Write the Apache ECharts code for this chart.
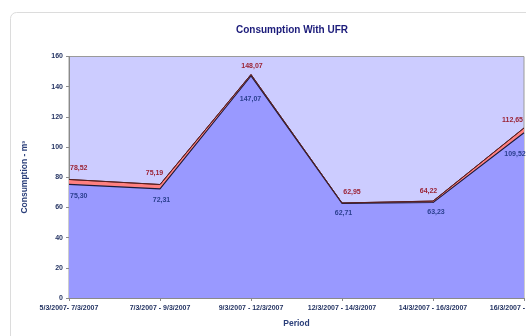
<!DOCTYPE html>
<html>
<head>
<meta charset="utf-8">
<script src="https://cdn.jsdelivr.net/npm/echarts@6/dist/echarts.min.js"></script>
<style>
  html, body { margin: 0; padding: 0; background: #ffffff; }
  #chart { width: 526px; height: 336px; }
</style>
</head>
<body>
<div id="chart"></div>
<script>
// Measurement periods
const periods = [
  '5/3/2007- 7/3/2007',
  '7/3/2007 - 9/3/2007',
  '9/3/2007 - 12/3/2007',
  '12/3/2007 - 14/3/2007',
  '14/3/2007 - 16/3/2007',
  '16/3/2007 - 19/3/2007'
];
// Consumption (m³) — upper series and lower series
const upperValues = [78.52, 75.19, 148.07, 62.95, 64.22, 112.65];
const lowerValues = [75.30, 72.31, 147.07, 62.71, 63.23, 109.52];
const yTicks = [0, 20, 40, 60, 80, 100, 120, 140, 160];

const fmt = v => v.toFixed(2).replace('.', ',');

// label shift (px) from each point, and text alignment
const upperLabelShift = [[1, -11, 'left'], [-5.5, -11], [1, -8], [10, -11], [-4.5, -10], [-11.5, -8]];
const lowerLabelShift = [[1, 11.4, 'left'], [1.5, 11.4], [-0.5, 22.7], [1.5, 9.3], [3, 10], [-9, 21.6]];

const SYMBOL = 2;

function buildData(vals, shifts, color) {
  return vals.map((v, i) => ({
    value: v,
    label: {
      show: true,
      position: [shifts[i][0] + SYMBOL / 2, shifts[i][1] + SYMBOL / 2],
      align: shifts[i][2] || 'center',
      verticalAlign: 'middle',
      color: color,
      fontSize: 7,
      fontWeight: 'bold',
      fontFamily: 'Liberation Sans, Arial, sans-serif',
      formatter: p => fmt(p.value)
    }
  }));
}

const chart = echarts.init(document.getElementById('chart'), null, { renderer: 'canvas' });

const hiddenSymbol = { color: 'rgba(0,0,0,0)', borderWidth: 0 };

chart.setOption({
  animation: false,
  backgroundColor: '#ffffff',
  graphic: [{
    type: 'rect',
    shape: { x: 10.5, y: 12.5, width: 540, height: 340, r: 6 },
    style: { fill: 'none', stroke: '#dcdcdc', lineWidth: 1 },
    z: -1
  }],
  title: {
    text: 'Consumption With UFR',
    left: 287,
    top: 20,
    textAlign: 'center',
    textStyle: {
      fontFamily: 'Liberation Sans, Arial, sans-serif',
      fontSize: 10,
      fontWeight: 'bold',
      color: '#1b1b7a'
    }
  },
  grid: {
    left: 69,
    right: 2,
    top: 56.5,
    bottom: 38,
    outerBoundsMode: 'none',
    containLabel: false,
    show: true,
    backgroundColor: '#ccccff',
    borderColor: '#9a9a9a',
    borderWidth: 1
  },
  xAxis: {
    type: 'category',
    data: periods,
    boundaryGap: false,
    name: 'Period',
    nameLocation: 'middle',
    nameGap: 21,
    nameTextStyle: {
      fontFamily: 'Liberation Sans, Arial, sans-serif',
      fontSize: 8.5,
      fontWeight: 'bold',
      color: '#2b3f7a'
    },
    axisLine: { lineStyle: { color: '#8a8a8a' } },
    axisTick: { show: true, length: 3, lineStyle: { color: '#8a8a8a' } },
    axisLabel: {
      interval: 0,
      margin: 7,
      hideOverlap: false,
      fontFamily: 'Liberation Sans, Arial, sans-serif',
      fontSize: 7,
      fontWeight: 'bold',
      color: '#1f2f5f'
    },
    splitLine: { show: false }
  },
  yAxis: {
    type: 'value',
    min: yTicks[0],
    max: yTicks[yTicks.length - 1],
    interval: yTicks[1] - yTicks[0],
    name: 'Consumption - m³',
    nameLocation: 'middle',
    nameGap: 40,
    nameTextStyle: {
      fontFamily: 'Liberation Sans, Arial, sans-serif',
      fontSize: 8.5,
      fontWeight: 'bold',
      color: '#2b3f7a'
    },
    axisLine: { show: true, lineStyle: { color: '#8a8a8a' } },
    axisTick: { show: true, length: 3, lineStyle: { color: '#8a8a8a' } },
    axisLabel: {
      margin: 6,
      fontFamily: 'Liberation Sans, Arial, sans-serif',
      fontSize: 7,
      fontWeight: 'bold',
      color: '#1f2f5f'
    },
    splitLine: { show: false }
  },
  series: [
    // upper series area, behind everything
    {
      name: 'upperArea',
      type: 'line',
      data: upperValues,
      symbol: 'none',
      lineStyle: { color: '#5a2020', width: 1 },
      areaStyle: { color: '#ff8080', opacity: 1 },
      z: 2
    },
    // lower series area with its outline and labels
    {
      name: 'lower',
      type: 'line',
      data: buildData(lowerValues, lowerLabelShift, '#2b3f8f'),
      symbol: 'circle',
      symbolSize: SYMBOL,
      showSymbol: true,
      itemStyle: hiddenSymbol,
      lineStyle: { color: '#1a1a3a', width: 1.1 },
      areaStyle: { color: '#9999ff', opacity: 1 },
      labelLayout: { hideOverlap: false },
      z: 3
    },
    // upper series outline and labels on top
    {
      name: 'upper',
      type: 'line',
      data: buildData(upperValues, upperLabelShift, '#9b2335'),
      symbol: 'circle',
      symbolSize: SYMBOL,
      showSymbol: true,
      itemStyle: hiddenSymbol,
      lineStyle: { color: '#5a2020', width: 1 },
      labelLayout: { hideOverlap: false },
      z: 4
    }
  ]
});
</script>
</body>
</html>
